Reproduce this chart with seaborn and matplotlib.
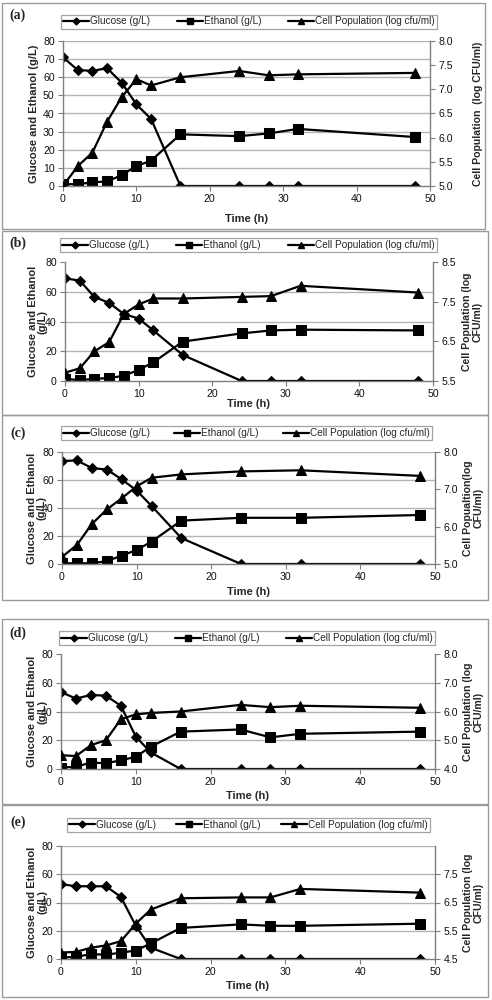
import numpy as np
import matplotlib
matplotlib.use("Agg")
import matplotlib.pyplot as plt
from matplotlib.lines import Line2D
from matplotlib.patches import Rectangle
import seaborn as sns

# Data
time_full = [0, 2, 4, 6, 8, 10, 12, 16, 24, 28, 32, 48]
time_c = [0, 2, 4, 6, 8, 10, 12, 16, 24, 32, 48]

glucose_a = [71, 64, 63.5, 65, 57, 45, 37, 0, 0, 0, 0, 0]
ethanol_a = [1, 1, 2, 2.5, 6, 11, 14, 28.5, 27.5, 29, 31.5, 27]
cells_a = [5.0, 5.41, 5.69, 6.33, 6.84, 7.21, 7.08, 7.25, 7.38, 7.29, 7.31, 7.34]

glucose_b = [69, 67.5, 56.5, 52.5, 45, 42, 34, 17.5, 0, 0, 0, 0]
ethanol_b = [1.5, 0.5, 1.5, 2, 3.5, 7.5, 12.5, 26.5, 32, 34, 34.5, 34]
cells_b = [5.71, 5.82, 6.25, 6.48, 7.19, 7.43, 7.58, 7.58, 7.62, 7.64, 7.9, 7.73]

glucose_c = [73.5, 74, 68.5, 67.5, 60.5, 52.5, 41.5, 18.5, 0, 0, 0]
ethanol_c = [0.5, 0.5, 0.5, 2, 6, 10, 16, 31, 33, 33, 35]
cells_c = [5.19, 5.51, 6.07, 6.46, 6.76, 7.08, 7.31, 7.4, 7.48, 7.51, 7.36]

glucose_d = [53.5, 49, 51.5, 51, 44, 22.5, 11.5, 0, 0, 0, 0, 0]
ethanol_d = [1, 1.5, 4.5, 4, 6, 8.5, 15.5, 26, 27.5, 22, 24.5, 26]
cells_d = [4.48, 4.45, 4.83, 5.0, 5.73, 5.9, 5.95, 6.0, 6.23, 6.15, 6.2, 6.13]

glucose_e = [53, 51.5, 51.5, 51.5, 44, 23.5, 8, 0, 0, 0, 0, 0]
ethanol_e = [1, 1.5, 3.5, 3, 4.5, 6, 11, 22, 24.5, 23.5, 23.5, 25]
cells_e = [4.73, 4.75, 4.9, 4.98, 5.13, 5.75, 6.25, 6.65, 6.68, 6.68, 6.98, 6.85]

legend_labels = ["Glucose (g/L)", "Ethanol (g/L)", "Cell Population (log cfu/ml)"]
x_ticks = [0, 10, 20, 30, 40, 50]

sns.set_theme(style="white")
plt.rcParams["font.family"] = ["Liberation Sans", "DejaVu Sans"]

W, H = 492, 1000
fig = plt.figure(figsize=(W / 100, H / 100), dpi=100)

GRID = "#b4b4b4"
SPINE = "#7f7f7f"

# lx: right edge of left label, rx: left edge of right label, xlab_y: top of "Time (h)"
panels = [
    dict(tag="(a)", t=time_full, g=glucose_a, e=ethanol_a, c=cells_a,
         ax=(63, 41, 430, 186), box=(2, 3, 485, 229),
         lticks=list(range(0, 81, 10)), rlim=(5.0, 8.0), rticks=[5.0, 5.5, 6.0, 6.5, 7.0, 7.5, 8.0],
         lab_l="Glucose and Ethanol (g/L)", lab_r="Cell Population  (log CFU/ml)",
         topgrid=True, leg=(61, 437, 22), tag_xy=(18, 15), xlab_y=214, lx=39, rx=473),
    dict(tag="(b)", t=time_full, g=glucose_b, e=ethanol_b, c=cells_b,
         ax=(65, 262, 433, 381), box=(2, 231, 488, 415),
         lticks=[0, 20, 40, 60, 80], rlim=(5.5, 8.5), rticks=[5.5, 6.5, 7.5, 8.5],
         lab_l="Glucose and Ethanol\n(g/L)", lab_r="Cell Population (log\nCFU/ml)",
         topgrid=False, leg=(60, 437, 245.5), tag_xy=(18, 243), xlab_y=399, lx=48, rx=462),
    dict(tag="(c)", t=time_c, g=glucose_c, e=ethanol_c, c=cells_c,
         ax=(62, 452, 435, 564), box=(2, 415, 488, 600),
         lticks=[0, 20, 40, 60, 80], rlim=(5.0, 8.0), rticks=[5.0, 6.0, 7.0, 8.0],
         lab_l="Glucose and Ethanol\n(g/L)", lab_r="Cell Popualtion(log\nCFU/ml)",
         topgrid=True, leg=(61, 432, 433.5), tag_xy=(18, 433), xlab_y=587, lx=47, rx=463),
    dict(tag="(d)", t=time_full, g=glucose_d, e=ethanol_d, c=cells_d,
         ax=(61, 654, 435, 769), box=(2, 619, 488, 804),
         lticks=[0, 20, 40, 60, 80], rlim=(4.0, 8.0), rticks=[4.0, 5.0, 6.0, 7.0, 8.0],
         lab_l="Glucose and Ethanol\n(g/L)", lab_r="Cell Population (log\nCFU/ml)",
         topgrid=False, leg=(59, 435, 638.5), tag_xy=(18, 633), xlab_y=791, lx=47, rx=463),
    dict(tag="(e)", t=time_full, g=glucose_e, e=ethanol_e, c=cells_e,
         ax=(61, 846, 435, 959), box=(2, 805, 488, 997),
         lticks=[0, 20, 40, 60, 80], rlim=(4.5, 8.5), rticks=[4.5, 5.5, 6.5, 7.5],
         lab_l="Glucose and Ethanol\n(g/L)", lab_r="Cell Population (log\nCFU/ml)",
         topgrid=True, leg=(67, 430, 825), tag_xy=(18, 822), xlab_y=981, lx=47, rx=463),
]

line_kw = dict(color="black", linewidth=1.6, markeredgecolor="black", markerfacecolor="black")

for p in panels:
    # grey frame round each panel
    x0, y0, x1, y1 = p["box"]
    fig.patches.append(Rectangle((x0 / W, 1 - y1 / H), (x1 - x0) / W, (y1 - y0) / H,
                                 transform=fig.transFigure, fill=False,
                                 edgecolor="#9a9a9a", linewidth=1.0))

    l, t, r, b = p["ax"]
    ax = fig.add_axes([l / W, 1 - b / H, (r - l) / W, (b - t) / H])
    ax2 = ax.twinx()

    sns.lineplot(x=p["t"], y=p["g"], ax=ax, marker="D", markersize=5.2, legend=False, **line_kw)
    sns.lineplot(x=p["t"], y=p["e"], ax=ax, marker="s", markersize=6.5, legend=False, **line_kw)
    sns.lineplot(x=p["t"], y=p["c"], ax=ax2, marker="^", markersize=7, legend=False, **line_kw)

    ax.set_xlim(0, 50)
    ax.set_ylim(0, 80)
    ax2.set_ylim(*p["rlim"])
    ax.set_xticks(x_ticks)
    ax.set_yticks(p["lticks"])
    ax2.set_yticks(p["rticks"])
    ax2.set_yticklabels(["{:.1f}".format(v) for v in p["rticks"]])

    for v in p["lticks"]:
        if v > 0 and (v < 80 or p["topgrid"]):
            ax.axhline(v, color=GRID, linewidth=1.0, zorder=0)

    for a in (ax, ax2):
        a.set_facecolor("none")
        a.spines["top"].set_visible(False)
        for s in ("left", "right", "bottom"):
            a.spines[s].set_color(SPINE)
            a.spines[s].set_linewidth(1.0)
        a.tick_params(axis="both", direction="out", length=3.5, width=0.8, color=SPINE,
                      labelsize=7.6, pad=2.5, labelcolor="#111111")
    ax.tick_params(axis="y", left=True, right=False)
    ax.tick_params(axis="x", bottom=True)
    ax2.tick_params(axis="y", right=True, left=False)
    ax.spines["right"].set_visible(False)
    ax2.spines["left"].set_visible(False)
    ax2.spines["bottom"].set_visible(False)

    height = b - t
    width = r - l
    ax.set_xlabel("Time (h)", fontsize=8, fontweight="bold")
    ax.xaxis.set_label_coords(0.5, -(p["xlab_y"] - b) / height)
    ax.set_ylabel(p["lab_l"], fontsize=8, fontweight="bold", linespacing=1.05)
    ax.yaxis.set_label_coords(-(l - p["lx"]) / width, 0.5)
    ax2.set_ylabel(p["lab_r"], fontsize=7.6, fontweight="bold", linespacing=1.05, rotation=90)
    ax2.yaxis.set_label_coords(1 + (p["rx"] - r) / width, 0.5)

    fig.text(p["tag_xy"][0] / W, 1 - p["tag_xy"][1] / H, p["tag"], fontsize=10,
             fontweight="bold", family=["Liberation Serif", "DejaVu Serif"],
             ha="center", va="center")

    handles = [
        Line2D([], [], color="black", linewidth=1.6, marker="D", markersize=3.5),
        Line2D([], [], color="black", linewidth=1.6, marker="s", markersize=5),
        Line2D([], [], color="black", linewidth=1.6, marker="^", markersize=5),
    ]
    lx0, lx1, ly = p["leg"]
    lh = 13
    leg = ax2.legend(handles, legend_labels, ncol=3, mode="expand", loc="lower left",
                     bbox_to_anchor=(lx0 / W, 1 - (ly + lh / 2) / H, (lx1 - lx0) / W, lh / H),
                     bbox_transform=fig.transFigure, fontsize=7.2, frameon=True,
                     fancybox=False, edgecolor="#8c8c8c", handlelength=2.6,
                     handletextpad=0.1, borderpad=0.2, borderaxespad=0, columnspacing=0.8)
    leg.get_frame().set_linewidth(0.9)

fig.savefig("out.png", dpi=100, facecolor="white")
